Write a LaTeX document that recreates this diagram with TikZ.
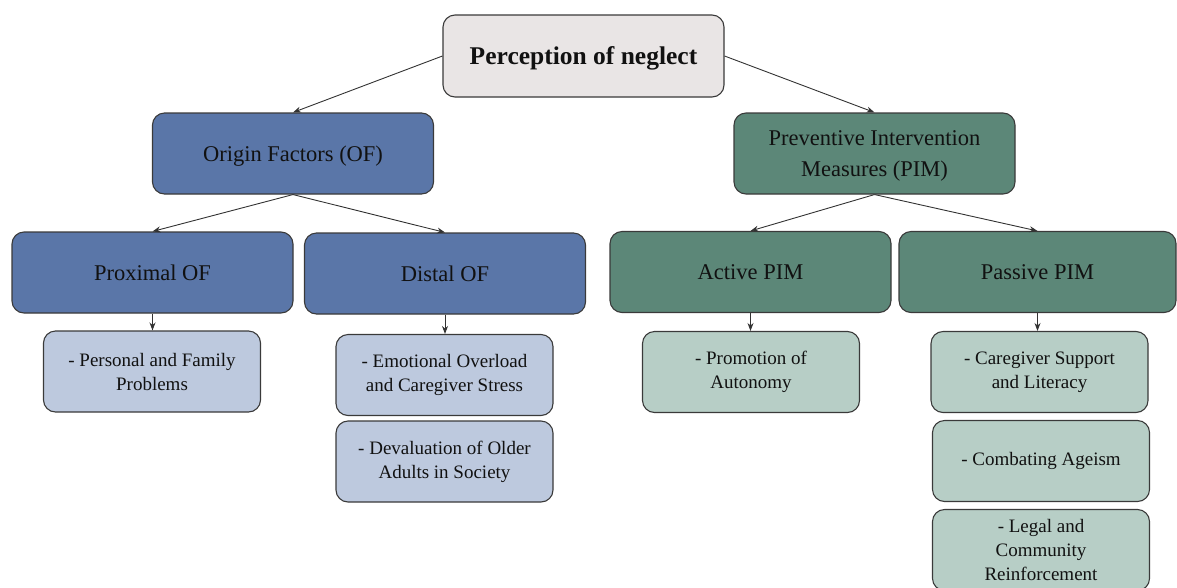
\documentclass[tikz,border=0pt]{standalone}
\usepackage{fontspec}
\setmainfont{Liberation Serif}
\usetikzlibrary{arrows.meta}
\definecolor{rootfill}{HTML}{E9E5E5}
\definecolor{offill}{HTML}{5A76A8}
\definecolor{pimfill}{HTML}{5C8778}
\definecolor{oflight}{HTML}{BDC9DE}
\definecolor{pimlight}{HTML}{B7CEC6}
\definecolor{boxline}{HTML}{3A3A3A}
\definecolor{linecol}{HTML}{333333}
\definecolor{txt}{HTML}{111111}
\begin{document}
\begin{tikzpicture}[x=1pt,y=-1pt,
  box/.style={draw=boxline, line width=1.1pt, rounded corners=12pt, align=center, inner sep=0pt, text=txt},
  rootbox/.style={box, fill=rootfill, minimum width=281pt, minimum height=82pt, text depth=0pt, font=\fontsize{25.5}{30}\selectfont\bfseries},
  ofbox/.style={box, fill=offill, minimum width=281pt, minimum height=81pt, font=\fontsize{22.5}{30.5}\selectfont},
  pimbox/.style={box, fill=pimfill, minimum width=281pt, minimum height=81pt, font=\fontsize{22.5}{30.5}\selectfont},
  oflbox/.style={box, fill=oflight, minimum width=217pt, minimum height=81pt, font=\fontsize{19}{24}\selectfont},
  pimlbox/.style={box, fill=pimlight, minimum width=217pt, minimum height=81pt, font=\fontsize{19}{24}\selectfont},
  conn/.style={draw=linecol, line width=0.9pt, -{Stealth[length=8pt,width=6pt]}}]
\useasboundingbox (0,0) rectangle (1177,587);
\clip (0,0) rectangle (1177,587);
\node[rootbox] (root) at (583.5,56) {Perception of neglect};
\node[ofbox, text depth=0pt] (of) at (293,153.5) {Origin Factors (OF)};
\node[pimbox, text depth=0pt] (pim) at (874.5,153.5) {Preventive Intervention\\Measures (PIM)};
\node[ofbox] (prox) at (152.5,272.5) {Proximal OF};
\node[ofbox] (dist) at (445,273.5) {Distal OF};
\node[pimbox] (act) at (750.5,272) {Active PIM};
\node[pimbox, minimum width=277pt] (pas) at (1037.5,272) {Passive PIM};
\node[oflbox] (pers) at (152,371.5) {- Personal and Family\\Problems};
\node[oflbox] (emo) at (444.5,375) {- Emotional Overload\\and Caregiver Stress};
\node[oflbox] (dev) at (444.5,461.5) {- Devaluation of Older\\Adults in Society};
\node[pimlbox] (prom) at (751,372) {- Promotion of\\Autonomy};
\node[pimlbox] (care) at (1039.5,372) {- Caregiver Support\\and Literacy};
\node[pimlbox] (comb) at (1041,461) {- Combating Ageism};
\node[pimlbox] (legal) at (1041,550) {- Legal and\\Community\\Reinforcement};
\draw[conn] (root.west) -- (of.north);
\draw[conn] (root.east) -- (pim.north);
\draw[conn] (of.south) -- (prox.north);
\draw[conn] (of.south) -- (dist.north);
\draw[conn] (pim.south) -- (act.north);
\draw[conn] (pim.south) -- (pas.north);
\draw[conn] (prox.south) -- (prox.south |- pers.north);
\draw[conn] (dist.south) -- (dist.south |- emo.north);
\draw[conn] (act.south) -- (act.south |- prom.north);
\draw[conn] (pas.south) -- (pas.south |- care.north);
\end{tikzpicture}
\end{document}
